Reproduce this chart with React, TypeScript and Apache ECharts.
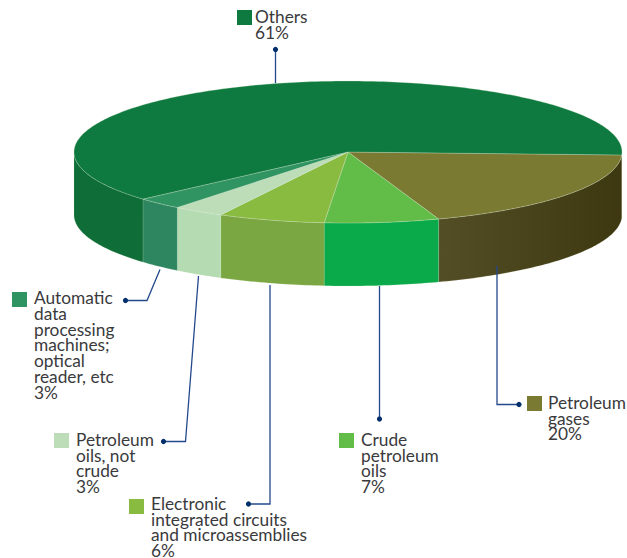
import React, { useEffect, useRef } from "react";
import * as echarts from "echarts";

// Labels and printed percentages
const sliceNames = [
  "Petroleum\ngases",
  "Crude\npetroleum\noils",
  "Electronic\nintegrated circuits\nand microassemblies",
  "Petroleum\noils, not\ncrude",
  "Automatic\ndata\nprocessing\nmachines;\noptical\nreader, etc",
  "Others",
];
const printedPercents = [20, 7, 6, 3, 3, 61];
// Share of the drawn ellipse that each slice takes
const drawnShares = [18.97, 6.75, 6.3, 3.02, 2.75, 62.21];
const topColors = ["#7A7A33", "#62BC48", "#8ABB41", "#BCDDB8", "#2F9362", "#0E7A3F"];
const sideColors = ["#544E26", "#0AAA4B", "#7BA742", "#B5DBB2", "#2E8660", "#0F6E37"];
const legendBoxes = [
  [527, 396], [339, 433], [129, 499], [54, 433], [12, 292], [237, 10],
];
const labelOffsets = [21, 22, 22, 22, 22, 18];
const labelLifts = [1.5, 1.5, 3.5, 1.5, 2, 1.5];
const leaderPaths = [
  [[519, 404.5], [497, 404.5], [497, 266]],
  [[379.5, 419], [379.5, 286]],
  [[248.5, 504], [270, 504], [270, 285]],
  [[163.5, 441.5], [185.5, 441.5], [198.5, 276]],
  [[125.5, 300.5], [147, 300.5], [160, 269.5]],
  [[275.5, 49.5], [275.5, 83]],
];

const CX = 348, CY = 152, RX = 274, RY = 71, DEPTH = 63, START = 2.4;
const FONT = "Lato";
const LINE = 15.7;

function point(deg: number, dy = 0) {
  const r = (deg * Math.PI) / 180;
  return [CX + RX * Math.cos(r), CY + RY * Math.sin(r) + dy];
}
function arc(a: number, b: number, dy = 0) {
  const n = Math.max(2, Math.ceil(Math.abs(b - a)));
  const pts: number[][] = [];
  for (let i = 0; i <= n; i++) pts.push(point(a + ((b - a) * i) / n, dy));
  return pts;
}

export default function App() {
  const ref = useRef<HTMLDivElement>(null);
  useEffect(() => {
    document.body.style.margin = "0";
    const chart = echarts.init(ref.current!, null, { renderer: "svg" });
    const total = drawnShares.reduce((s, v) => s + v, 0);
    const data = drawnShares.map((v, i) => {
      const before = drawnShares.slice(0, i).reduce((s, x) => s + x, 0);
      return { name: sliceNames[i].replace(/\n/g, " "), value: [(before / total) * 360 + START, (v / total) * 360, i] };
    });

    const renderTop = (_: any, api: any) => {
      const a = api.value(0), span = api.value(1), i = api.value(2);
      return {
        type: "polygon",
        shape: { points: [[CX, CY], ...arc(a, a + span)] },
        style: { fill: topColors[i], stroke: "rgba(220,235,210,0.4)", lineWidth: 0.7, lineJoin: "round" },
      };
    };
    const renderSide = (_: any, api: any) => {
      const a = api.value(0), span = api.value(1), i = api.value(2);
      const from = a, to = Math.min(a + span, 180);
      const fill = i === 0
        ? { type: "linear", x: 0, y: 0, x2: 1, y2: 0, colorStops: [{ offset: 0, color: "#544E26" }, { offset: 1, color: "#3E3810" }] }
        : sideColors[i];
      return {
        type: "polygon",
        shape: { points: [...arc(from, to), ...arc(to, from, DEPTH)] },
        style: { fill, stroke: "rgba(220,235,210,0.3)", lineWidth: 0.5, lineJoin: "round" },
      };
    };

    const graphics: any[] = [];
    leaderPaths.forEach((p) => {
      graphics.push({ type: "polyline", z: 5, shape: { points: p }, style: { fill: "none", stroke: "#23498C", lineWidth: 1.3 } });
      graphics.push({ type: "circle", z: 6, shape: { cx: p[0][0], cy: p[0][1], r: 2.6 }, style: { fill: "#002F6C" } });
    });
    sliceNames.forEach((name, i) => {
      const [x, y] = legendBoxes[i];
      graphics.push({ type: "rect", z: 5, shape: { x, y, width: 15, height: 15 }, style: { fill: topColors[i] } });
      graphics.push({
        type: "text", z: 5, x: x + labelOffsets[i], y: y - labelLifts[i],
        style: {
          text: `${name}\n${printedPercents[i]}%`,
          font: `17.3px ${FONT}`,
          lineHeight: LINE,
          fill: "#3A3A3C",
          textAlign: "left",
          textVerticalAlign: "top",
        },
      });
    });

    chart.setOption({
      animation: false,
      backgroundColor: "#ffffff",
      tooltip: { show: false },
      graphic: graphics,
      series: [
        { type: "custom", coordinateSystem: "none", z: 2, silent: true, clip: false, renderItem: renderSide, data },
        { type: "custom", coordinateSystem: "none", z: 3, silent: true, clip: false, renderItem: renderTop, data },
      ],
    });
    return () => chart.dispose();
  }, []);
  return <div ref={ref} style={{ position: "absolute", left: 0, top: 0, width: 627, height: 558 }} />;
}
